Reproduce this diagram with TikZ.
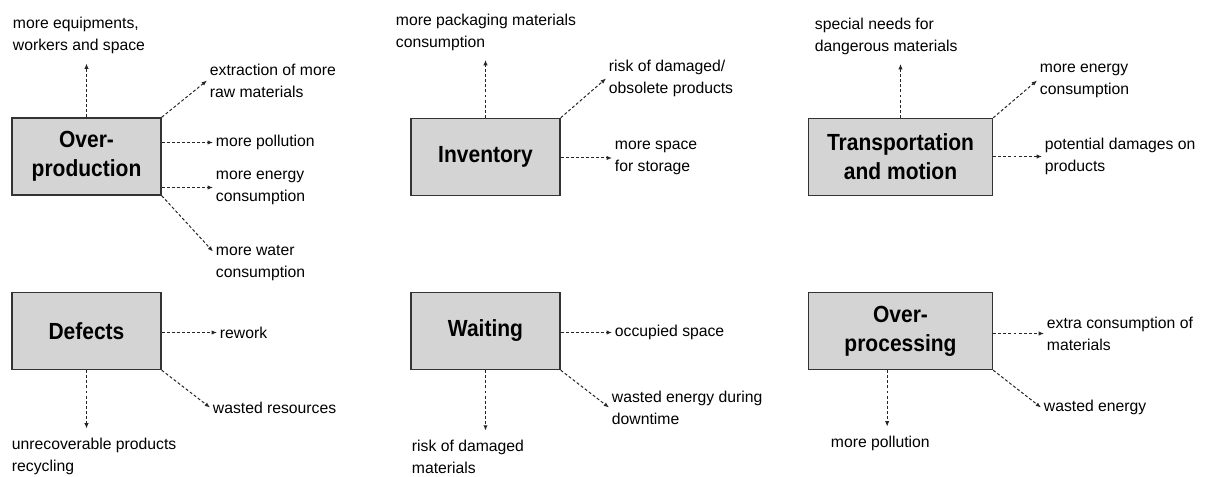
\documentclass[tikz,border=0pt]{standalone}
\usepackage{fontspec}
\setmainfont{Liberation Sans}
\newfontfamily\titlefont[FakeStretch=0.9]{Liberation Sans}
\usetikzlibrary{arrows.meta}

\begin{document}
\begin{tikzpicture}[
    x=0.75pt, y=-0.75pt,
    waste/.style={rectangle, draw=black!80, line width=1.1pt, fill=black!17, minimum width=111.75pt, minimum height=57.75pt, inner sep=0pt, align=center, font=\titlefont\fontsize{17.5}{21.75}\selectfont\bfseries},
    effect/.style={anchor=west, align=left, inner sep=2pt, text=black, font=\fontsize{11.8}{16.5}\selectfont},
    arrow/.style={-{Latex[length=4pt,width=3.2pt]}, dash pattern=on 2.2pt off 1.6pt, line width=0.75pt, black!85},
    vert/.style={arrow, shorten >=5pt}
]
\useasboundingbox (0,0) rectangle (1206,477);

% the six wastes
\node[waste] (op) at (86.5,156.5) {Over-\\production};
\node[waste] (df) at (86.5,331) {Defects};
\node[waste] (inv) at (485.5,157) {Inventory};
\node[waste] (wt) at (485.5,331) {Waiting};
\node[waste, minimum width=138pt] (tr) at (900.5,157) {Transportation\\and motion};
\node[waste, minimum width=138pt] (pr) at (900.5,331) {Over-\\processing};

% overproduction
\node[effect] (eq) at (10,35.5) {more equipments,\\workers and space};
\node[effect] (ex) at (207,80.5) {extraction of more\\raw materials};
\node[effect] (pol) at (213,142.5) {more pollution};
\node[effect] (en) at (213,187.5) {more energy\\consumption};
\node[effect] (wa) at (213,263.5) {more water\\consumption};
\draw[vert] (op.north) -- (op.north |- eq.south);
\draw[arrow] (op.north east) -- (ex.west);
\draw[arrow] (op.east |- pol.west) -- (pol.west);
\draw[arrow] (op.east |- en.west) -- (en.west);
\draw[arrow] (op.south east) -- ([yshift=9pt]wa.west);

% defects
\node[effect] (rw) at (217,332.5) {rework};
\node[effect] (wr) at (210,407.5) {wasted resources};
\node[effect] (ur) at (9,456.5) {unrecoverable products\\recycling};
\draw[arrow] (df.east |- rw.west) -- (rw.west);
\draw[arrow] (df.south east) -- (wr.west);
\draw[vert] (df.south) -- (df.south |- ur.north);

% inventory
\node[effect] (pk) at (393,32) {more packaging materials\\consumption};
\node[effect] (rd) at (606,78.5) {risk of damaged/\\obsolete products};
\node[effect] (ms) at (612,158) {more space\\for storage};
\draw[vert] (inv.north) -- (inv.north |- pk.south);
\draw[arrow] (inv.north east) -- (rd.west);
\draw[arrow] (inv.east |- ms.west) -- (ms.west);

% waiting
\node[effect] (oc) at (612,332.5) {occupied space};
\node[effect] (we) at (609,407.5) {wasted energy during\\downtime};
\node[effect] (rm) at (409,457) {risk of damaged\\materials};
\draw[arrow] (wt.east |- oc.west) -- (oc.west);
\draw[arrow] (wt.south east) -- (we.west);
\draw[vert] (wt.south) -- (wt.south |- rm.north);

% transportation and motion
\node[effect] (sn) at (812,36) {special needs for\\dangerous materials};
\node[effect] (ec) at (1037,80.5) {more energy\\consumption};
\node[effect] (pd) at (1042,156.5) {potential damages on\\products};
\draw[vert] (tr.north) -- (tr.north |- sn.south);
\draw[arrow] (tr.north east) -- (ec.west);
\draw[arrow] (tr.east |- pd.west) -- (pd.west);

% overprocessing
\node[effect] (xc) at (1044,333.5) {extra consumption of\\materials};
\node[effect] (wn) at (1041,407.5) {wasted energy};
\node[effect] (mp) at (828,443.5) {more pollution};
\draw[arrow] (pr.east |- xc.west) -- (xc.west);
\draw[arrow] (pr.south east) -- (wn.west);
\draw[vert] ([xshift=-10pt]pr.south) -- ([xshift=-10pt]pr.south |- mp.north);
\end{tikzpicture}
\end{document}
